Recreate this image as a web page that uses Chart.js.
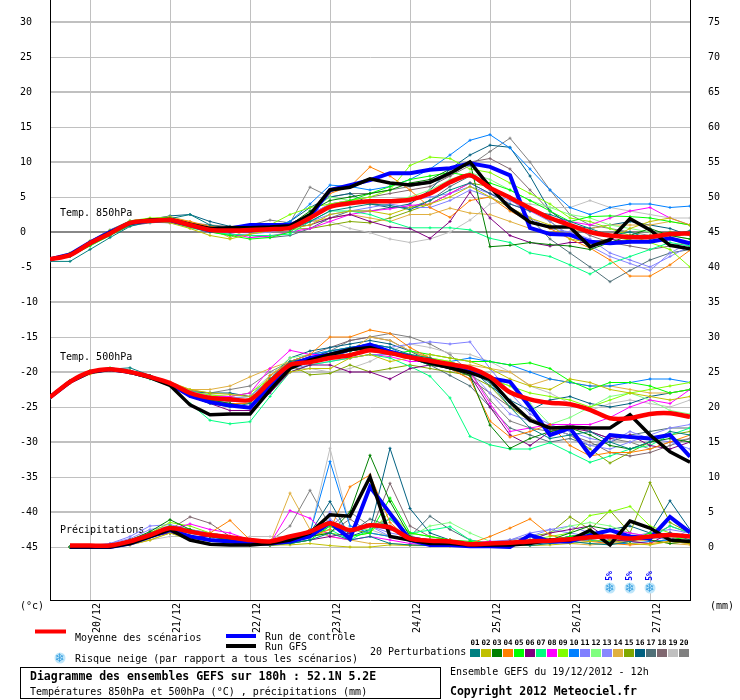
<!DOCTYPE html>
<html>
<head>
<meta charset="utf-8">
<title>Diagramme des ensembles GEFS</title>
<script src="https://cdn.jsdelivr.net/npm/chart.js@4.4.1/dist/chart.umd.min.js"></script>
<style>
  html, body { margin: 0; padding: 0; background: #fff; }
  #wrap { width: 740px; height: 700px; }
</style>
</head>
<body>
<div id="wrap"><canvas id="gefsChart" width="740" height="700"></canvas></div>
<script>
// forecast hours of the 19/12/2012 12h run
const hours = [0,6,12,18,24,30,36,42,48,54,60,66,72,78,84,90,96,102,108,114,120,126,132,138,144,150,156,162,168,174,180,186,192];
const dateHours = [12,36,60,84,108,132,156,180];
const dateLabels = ['20/12','21/12','22/12','23/12','24/12','25/12','26/12','27/12'];
const tempTicks = [-45,-40,-35,-30,-25,-20,-15,-10,-5,0,5,10,15,20,25,30];
const mmTicks = [0,5,10,15,20,25,30,35,40,45,50,55,60,65,70,75];

const memberNames = ['01','02','03','04','05','06','07','08','09','10','11','12','13','14','15','16','17','18','19','20'];
const memberColors = ['#008080','#c0c000','#008000','#ff8000','#00ff00','#800080','#00ff80','#ff00ff','#80ff00','#0080ff',
                      '#8080ff','#80ff80','#8888ff','#e0b040','#80a800','#006080','#507078','#806870','#c0c0c0','#808080'];

// snow risk
const snowHours = [168,174,180];
const snowPct = [5,5,5];

// temperature 850hPa (°C)
const t850Mean = [-3.9,-3.3,-1.6,-0.2,1.3,1.6,1.7,1.0,0.3,0.2,0.3,0.4,0.6,2.0,3.6,4.1,4.4,4.4,4.6,5.5,7.1,8.1,6.3,4.9,3.4,2.0,1.0,0,-0.5,-0.7,-0.7,-0.3,-0.2];
const t850Control = [-3.9,-3.2,-1.5,0,1.3,1.6,1.7,1.0,0.2,0.5,1.0,1.0,1.0,2.2,6.0,6.7,7.4,8.4,8.4,8.9,9.1,9.8,9.3,8.1,0.6,-0.3,-0.4,-1.4,-1.6,-1.4,-1.4,-0.9,-1.6];
const t850Gfs = [-3.9,-3.3,-1.6,-0.1,1.3,1.7,1.8,1.1,0.5,0.6,0.6,0.7,0.9,2.5,6.0,6.4,7.6,7.0,6.7,7.1,8.4,10.0,6.4,3.4,1.4,0.7,0.7,-2.1,-1.1,1.9,0.3,-1.9,-2.4];
const t850Members = [
  [-4.2,-4.2,-2.5,-0.8,0.8,1.5,1.9,2.5,1.0,0.5,0.2,0.5,0.3,1.5,3.0,3.5,4.0,3.8,3.2,4.5,6.0,7.0,5.5,4.0,3.0,2.5,1.5,0.5,-0.5,0.0,-1.0,-0.5,0.2],
  [-3.9,-3.2,-1.5,0,1.2,1.5,1.3,0.5,-0.5,-1.0,-0.3,0.2,0.5,1.0,2.5,3.0,3.0,2.5,3.5,4.0,5.0,6.5,5.0,3.5,2.0,1.0,-1.0,-1.5,-1.0,0.5,1.5,2.0,1.0],
  [-3.8,-3.1,-1.4,0.1,1.4,1.7,1.6,0.9,0.5,0.3,0.2,0.5,1.0,3.0,4.5,5.0,5.5,6.0,7.0,7.5,9.0,10.0,-2.1,-1.9,-1.5,-1.8,-2.0,-2.5,-1.5,-0.5,0.5,-0.5,-1.0],
  [-4.0,-3.3,-1.7,-0.3,1.2,1.6,2.0,1.5,0.8,0.5,0.3,0.5,0.8,2.5,5.5,6.5,9.3,8.0,6.0,3.5,2.1,4.5,5.0,3.0,1.5,0.5,-1.0,-2.3,-4.0,-6.3,-6.3,-4.7,-2.6],
  [-4.0,-3.5,-2.0,-0.5,1.0,1.8,2.1,1.2,0.0,-0.5,-1.0,-0.8,0.0,2.0,3.5,4.5,5.5,6.5,7.5,8.0,8.5,8.0,7.0,6.0,4.5,3.0,1.5,2.2,2.3,2.2,2.0,1.5,1.0],
  [-3.9,-3.4,-1.8,-0.4,1.1,1.5,1.4,0.8,0.2,0.0,0.0,0.3,0.6,1.0,2.0,2.5,1.5,0.7,0.5,-0.9,1.5,5.7,2.0,-0.5,-1.5,-2.0,-1.5,-1.5,-1.0,-1.5,-1.2,-1.0,-1.5],
  [-4.0,-3.4,-1.8,-0.4,1.0,1.4,1.4,0.6,0.0,-0.3,-0.5,-0.5,-0.3,1.5,3.0,3.0,2.5,1.5,0.6,0.6,0.6,0.3,-0.9,-1.5,-3.0,-3.5,-4.7,-6.0,-4.5,-3.5,-2.5,-1.5,-2.0],
  [-3.9,-3.3,-1.6,-0.2,1.3,1.7,1.8,1.0,0.2,-0.2,-0.8,-0.6,0.0,0.5,1.5,2.5,3.0,3.3,3.8,4.0,5.5,7.0,5.5,4.0,3.0,2.0,1.5,1.0,2.0,3.0,3.5,2.0,1.0],
  [-3.8,-3.0,-1.3,0.2,1.6,2.0,2.0,1.3,0.6,0.4,0.6,1.0,2.5,3.5,4.0,4.5,5.0,6.0,9.5,10.7,10.5,9.0,8.5,7.0,5.5,4.0,2.0,1.5,0.5,-0.5,-1.5,-2.5,-5.0],
  [-4.0,-3.4,-1.7,-0.3,1.2,1.8,2.0,1.2,0.5,0.3,0.3,0.6,1.5,4.0,6.7,6.5,6.0,6.5,7.5,9.0,11.0,13.1,13.9,12.0,9.0,6.0,3.5,2.5,3.5,4.0,4.0,3.5,3.7],
  [-3.9,-3.3,-1.7,-0.3,1.2,1.6,1.6,0.9,0.2,0.0,0.2,0.4,0.5,1.5,2.5,3.0,3.5,4.0,3.5,3.5,4.5,6.0,5.0,3.5,2.0,0.5,0.0,-1.0,-3.0,-4.0,-5.0,-3.5,-2.0],
  [-3.8,-3.2,-1.5,0.0,1.3,1.6,1.6,1.0,0.5,0.3,0.2,0.3,0.4,3.0,5.0,4.5,4.0,4.5,5.0,6.0,7.5,8.5,7.5,6.0,4.5,3.5,2.5,2.0,1.0,0.5,0.0,-0.5,-1.0],
  [-3.9,-3.4,-1.8,-0.3,1.1,1.4,1.3,0.7,0.0,-0.4,-0.3,0.0,0.5,2.5,4.0,4.5,4.0,4.5,4.5,5.0,5.5,6.5,5.5,4.5,3.0,1.5,-0.5,-2.0,-3.5,-4.5,-5.5,-3.0,-1.5],
  [-3.9,-3.3,-1.6,-0.1,1.4,1.9,2.2,1.5,0.5,-0.8,0.5,0.7,1.0,1.5,2.0,2.5,2.0,1.5,2.5,2.5,3.4,2.7,2.5,1.5,0.5,-0.5,0.0,0.5,1.0,1.0,1.0,1.5,1.0],
  [-3.8,-3.1,-1.4,0.1,1.5,1.9,1.9,1.2,0.6,0.5,0.6,0.5,0.4,0.5,1.0,1.5,1.3,2.0,3.0,4.0,5.5,7.0,6.5,5.0,3.5,1.5,-0.5,-2.0,-1.5,-1.0,-0.5,0.0,-0.5],
  [-4.0,-3.4,-1.8,-0.3,1.3,1.8,2.3,2.5,1.5,0.8,0.5,0.7,1.5,3.5,5.0,5.5,4.0,3.5,4.0,6.0,9.0,11.0,12.4,12.1,8.0,3.0,1.0,0.5,1.0,1.5,1.0,0.5,-0.5],
  [-3.9,-3.3,-1.6,-0.2,1.2,1.5,1.5,0.8,0.1,-0.5,-0.5,-0.8,-0.5,0.5,2.0,3.0,3.0,3.5,3.5,4.5,6.5,8.0,6.0,5.0,2.0,-1.0,-3.0,-5.0,-7.1,-5.5,-4.0,-3.0,-2.5],
  [-4.0,-3.5,-1.9,-0.5,0.9,1.3,1.5,1.0,0.3,0.2,0.4,0.7,0.8,2.5,4.0,4.5,5.0,5.5,6.0,6.5,8.0,10.0,10.5,9.0,6.0,3.0,1.0,-0.5,-1.5,-2.0,-2.5,-2.0,-1.5],
  [-3.9,-3.3,-1.6,-0.2,1.2,1.6,1.6,1.0,0.3,0.2,0.3,0.4,0.5,1.5,1.5,0.5,-0.1,-1.0,-1.5,-1.0,0.0,1.7,4.0,4.5,4.0,3.5,3.5,4.5,3.5,3.0,2.5,2.0,2.0],
  [-3.8,-3.1,-1.3,0.3,1.6,1.9,1.8,1.3,1.0,0.8,1.0,1.7,1.3,6.4,5.0,5.5,5.5,6.0,6.5,7.0,8.0,9.5,11.5,13.4,10.0,6.0,2.5,1.0,0.5,0.0,-0.5,-1.0,-2.0]
];

// temperature 500hPa (°C)
const t500Mean = [-23.6,-21.4,-20.0,-19.6,-20.0,-20.7,-21.6,-23.0,-23.7,-23.9,-24.0,-21.4,-19.0,-18.6,-18.0,-17.6,-16.9,-17.3,-17.9,-18.4,-18.9,-19.4,-20.7,-22.9,-23.9,-24.4,-24.6,-25.4,-26.6,-26.6,-26.0,-25.9,-26.4];
const t500Control = [-23.6,-21.4,-20.0,-19.6,-20.0,-20.7,-21.7,-23.4,-24.3,-24.8,-25.1,-22.0,-19.0,-18.0,-17.5,-16.8,-16.1,-17.1,-17.8,-18.6,-19.3,-20.0,-20.9,-21.4,-25.0,-29.0,-28.0,-31.9,-29.0,-29.3,-29.5,-29.0,-32.1];
const t500Gfs = [-23.6,-21.4,-20.0,-19.6,-20.0,-20.8,-21.9,-24.7,-26.1,-26.0,-26.0,-22.6,-19.5,-18.3,-17.5,-16.8,-16.5,-17.3,-17.9,-18.7,-19.4,-20.1,-21.1,-24.3,-26.9,-28.0,-27.9,-28.0,-28.0,-26.1,-29.0,-31.4,-32.9];
const t500Members = [
  [-23.7,-21.5,-20.1,-19.6,-19.4,-20.5,-21.8,-23.5,-24.5,-25.0,-24.5,-21.0,-18.5,-18.0,-17.0,-16.5,-16.0,-16.5,-17.5,-18.0,-19.0,-20.0,-21.5,-25.0,-28.0,-29.5,-29.0,-28.5,-30.0,-31.0,-30.0,-28.5,-29.0],
  [-23.6,-21.6,-20.3,-19.8,-20.1,-20.8,-21.5,-22.5,-23.0,-23.2,-23.5,-22.0,-20.0,-19.5,-19.5,-18.0,-17.5,-18.5,-18.0,-17.5,-18.0,-18.5,-19.5,-21.0,-22.0,-22.5,-21.0,-21.5,-22.5,-23.0,-23.5,-24.0,-23.5],
  [-23.6,-21.4,-20.0,-19.5,-19.9,-20.6,-21.7,-23.2,-24.0,-24.5,-25.0,-22.0,-19.0,-18.5,-17.5,-17.0,-16.5,-17.0,-18.0,-19.0,-19.5,-20.5,-27.6,-30.9,-29.5,-28.5,-28.0,-29.0,-30.5,-31.0,-30.0,-29.5,-30.0],
  [-23.6,-21.3,-19.9,-19.5,-20.0,-20.8,-21.8,-23.3,-24.2,-24.5,-24.5,-20.5,-18.5,-17.5,-15.0,-15.0,-14.0,-14.5,-16.5,-18.0,-19.5,-21.0,-27.0,-29.3,-28.5,-27.5,-30.5,-32.0,-31.5,-31.5,-31.0,-30.0,-29.0],
  [-23.5,-21.2,-19.8,-19.4,-19.8,-20.5,-21.5,-23.0,-23.8,-24.0,-24.3,-21.5,-18.8,-18.5,-17.5,-17.5,-17.0,-17.5,-17.0,-17.5,-18.0,-18.5,-18.5,-19.0,-18.7,-19.5,-21.3,-22.5,-21.5,-21.5,-22.0,-23.0,-22.5],
  [-23.7,-21.5,-20.1,-19.7,-20.1,-20.9,-21.9,-23.5,-24.5,-25.5,-25.5,-23.0,-20.0,-19.0,-19.0,-20.0,-20.0,-21.0,-19.5,-19.0,-19.5,-20.5,-25.0,-29.0,-30.5,-28.5,-28.0,-28.5,-29.5,-29.0,-30.5,-31.0,-30.0],
  [-23.6,-21.5,-20.1,-19.7,-20.2,-21.0,-22.0,-24.5,-26.9,-27.4,-27.1,-23.5,-20.0,-19.0,-18.5,-18.0,-17.5,-18.0,-19.2,-20.6,-23.7,-29.2,-30.4,-31.0,-31.0,-30.1,-31.5,-32.9,-32.0,-31.0,-30.5,-29.0,-28.0],
  [-23.6,-21.4,-20.0,-19.6,-20.0,-20.6,-21.5,-22.8,-23.5,-23.5,-23.0,-19.5,-16.9,-17.5,-17.5,-18.0,-17.5,-17.8,-18.5,-18.5,-19.0,-20.0,-24.5,-28.5,-28.0,-27.5,-27.5,-27.5,-26.5,-25.0,-24.0,-24.5,-22.5],
  [-23.5,-21.3,-19.9,-19.5,-19.9,-20.6,-21.6,-22.8,-23.3,-23.5,-23.0,-21.0,-18.5,-18.0,-17.5,-17.0,-16.5,-17.0,-17.5,-18.0,-18.5,-19.5,-21.0,-22.0,-23.0,-23.5,-24.0,-25.0,-24.0,-23.0,-22.5,-22.0,-21.5],
  [-23.6,-21.4,-20.0,-19.6,-20.0,-20.7,-21.6,-23.2,-24.0,-24.5,-25.0,-21.5,-18.5,-17.5,-17.0,-16.5,-16.0,-16.5,-18.0,-19.0,-18.5,-18.0,-18.5,-19.0,-20.0,-21.0,-21.5,-22.0,-22.0,-21.5,-21.0,-21.0,-21.5],
  [-23.7,-21.5,-20.1,-19.7,-20.1,-20.8,-21.7,-23.0,-23.5,-23.7,-23.5,-21.0,-18.5,-17.5,-17.0,-16.5,-16.0,-16.5,-16.0,-15.7,-16.0,-15.7,-19.5,-23.0,-26.0,-27.5,-28.5,-29.5,-30.0,-28.5,-29.5,-30.0,-31.0],
  [-23.6,-21.4,-20.0,-19.6,-20.0,-20.7,-21.6,-23.0,-23.6,-23.8,-23.5,-20.5,-18.0,-17.5,-17.0,-17.0,-16.5,-17.0,-17.5,-18.0,-18.5,-19.5,-21.0,-22.0,-24.5,-27.5,-26.5,-25.0,-23.5,-23.0,-24.0,-25.5,-26.0],
  [-23.6,-21.5,-20.1,-19.7,-20.1,-20.8,-21.7,-23.1,-23.8,-24.0,-24.0,-22.0,-19.5,-19.0,-18.5,-18.0,-17.5,-17.5,-18.0,-18.5,-19.0,-20.0,-23.0,-26.0,-27.0,-28.0,-29.0,-30.5,-31.0,-30.0,-29.0,-28.0,-27.5],
  [-23.5,-21.3,-19.9,-19.5,-19.9,-20.6,-21.4,-22.5,-22.5,-22.0,-20.7,-19.5,-18.5,-18.0,-17.5,-17.0,-15.0,-15.5,-17.0,-18.0,-19.0,-19.0,-19.5,-20.0,-21.9,-21.0,-21.5,-22.0,-22.0,-22.5,-23.0,-23.0,-22.5],
  [-23.6,-21.4,-20.0,-19.6,-20.0,-20.8,-21.7,-23.2,-24.0,-24.5,-24.5,-21.0,-19.0,-20.4,-20.2,-19.0,-20.0,-19.5,-19.0,-19.5,-20.0,-20.5,-22.0,-25.0,-27.0,-28.0,-29.0,-31.0,-33.0,-31.5,-30.0,-29.0,-28.5],
  [-23.6,-21.4,-20.0,-19.6,-20.0,-20.6,-21.5,-22.8,-23.0,-23.0,-23.5,-21.0,-18.0,-17.0,-16.5,-16.0,-15.5,-16.0,-17.0,-18.5,-19.0,-19.5,-22.0,-24.0,-25.5,-24.0,-23.5,-24.5,-25.0,-24.5,-23.5,-23.0,-22.5],
  [-23.6,-21.5,-20.1,-19.7,-20.0,-20.7,-21.7,-23.0,-23.8,-24.0,-24.0,-21.5,-19.0,-18.5,-18.0,-17.0,-16.5,-17.0,-18.0,-19.0,-20.5,-22.0,-25.0,-28.0,-29.0,-30.0,-29.5,-30.5,-30.0,-29.0,-28.5,-28.0,-28.0],
  [-23.7,-21.5,-20.1,-19.7,-20.1,-20.8,-21.8,-23.2,-24.0,-24.2,-24.0,-21.0,-18.5,-17.5,-16.5,-15.5,-15.0,-15.5,-17.0,-18.0,-19.5,-21.0,-23.0,-25.0,-26.5,-28.0,-29.0,-30.0,-31.5,-32.0,-31.5,-30.5,-29.5],
  [-23.6,-21.4,-20.0,-19.6,-20.0,-20.7,-21.6,-22.8,-23.2,-23.5,-23.0,-20.5,-19.5,-19.5,-20.0,-19.5,-18.5,-17.0,-16.0,-16.5,-17.3,-17.5,-18.5,-20.0,-22.0,-23.0,-24.5,-25.5,-24.5,-24.0,-24.5,-25.0,-24.0],
  [-23.6,-21.4,-20.0,-19.6,-20.0,-20.7,-21.5,-22.6,-23.0,-22.5,-22.0,-20.0,-18.5,-18.0,-17.0,-15.5,-15.0,-14.5,-15.0,-16.0,-17.5,-20.0,-24.0,-27.0,-28.0,-28.5,-27.5,-28.5,-29.5,-30.0,-31.0,-30.0,-29.5]
];

// precipitation (mm), first value of the run is not given
const precipMean = [null,0.2,0.2,0.2,0.8,1.7,2.7,2.2,1.7,1.4,1.0,0.8,1.5,2.2,3.4,2.4,3.1,2.8,1.2,0.9,0.8,0.4,0.5,0.6,0.8,0.9,1.1,1.4,1.5,1.2,1.5,1.7,1.5];
const precipControl = [null,0,0,0,0.5,1.5,2.4,1.5,1.0,0.8,0.5,0.5,0.8,1.5,3.5,1.2,8.6,4.8,1.0,0.3,0.3,0.1,0.1,0,1.7,0.8,0.8,1.7,2.4,1.5,1.2,4.3,2.1];
const precipGfs = [null,0,0,0,0.5,1.5,2.5,1.0,0.4,0.3,0.3,0.5,1.0,2.0,4.6,4.4,10.0,1.5,1.0,0.5,0.5,0.3,0.3,0.3,0.5,1.0,1.0,2.4,0.3,3.7,2.7,1.0,0.8];
const precipMembers = [
  [null,0,0.1,0.3,1.0,2.0,2.5,1.5,1.0,0.8,0.3,0.5,0.5,1.0,2.0,1.0,1.5,0.5,0.3,0.2,0.3,0.2,0.3,0.5,0.2,0.5,0.8,0.5,0.3,0.8,1.5,2.0,1.0],
  [null,0,0,0,0.3,1.0,2.0,1.0,0.5,0.5,0.2,0.3,0.3,0.5,0.2,0.0,0.0,0.3,0.2,0.2,0.1,0.1,0.2,0.3,0.2,0.3,0.5,0.8,1.0,0.5,0.3,0.8,0.5],
  [null,0,0,0.2,1.0,2.2,3.9,2.5,1.5,1.0,0.5,0.2,0.5,1.5,2.0,5.0,13.1,6.5,1.5,0.5,0.3,0.2,0.2,0.3,0.5,1.0,2.0,3.0,2.5,1.5,1.0,0.5,0.8],
  [null,0,0.1,0.1,0.5,1.5,2.5,2.0,2.0,3.8,1.0,0.8,1.0,1.5,2.5,8.6,10.3,3.5,1.0,0.5,1.0,0.5,1.5,2.7,4.0,1.7,1.0,0.8,0.5,0.3,0.5,0.8,0.5],
  [null,0,0,0.2,0.8,2.0,3.0,2.5,1.5,1.0,0.8,0.5,0.5,1.0,3.0,1.5,2.0,7.0,2.0,1.5,1.0,0.8,0.5,0.3,0.5,0.8,1.5,2.0,1.5,1.0,2.0,1.0,1.5],
  [null,0,0,0,0.5,1.5,2.0,1.5,1.5,1.0,0.8,0.5,0.5,1.0,1.5,2.0,3.0,2.5,1.5,1.0,0.5,0.3,0.5,0.8,1.0,2.0,2.5,3.0,1.0,0.8,0.5,2.0,1.5],
  [null,0,0,0,0.5,1.5,2.5,2.0,1.5,1.2,0.8,0.5,1.0,2.0,2.5,1.0,2.5,4.0,2.0,2.4,2.9,1.0,0.5,0.3,0.5,0.8,1.5,1.0,0.8,1.5,1.2,3.0,2.0],
  [null,0,0,0.3,1.0,2.0,2.5,3.3,2.5,2.0,1.0,0.5,5.2,4.1,1.5,1.0,1.5,1.0,0.5,0.3,0.2,0.5,0.8,0.5,0.5,0.8,1.0,1.5,2.5,2.0,1.5,2.0,1.5],
  [null,0,0,0.2,1.0,2.0,3.5,3.0,2.0,1.5,1.0,0.5,1.0,1.5,2.0,1.5,2.0,5.0,2.0,1.5,1.0,0.5,0.5,0.8,1.0,1.5,2.0,4.5,5.0,5.8,3.0,2.0,1.5],
  [null,0,0,0,0.5,1.5,2.0,1.5,1.0,0.8,0.5,0.5,1.0,2.0,12.2,3.0,2.0,1.5,1.0,0.5,0.5,0.3,0.2,0.3,0.5,0.5,0.8,1.0,0.5,0.5,0.8,1.0,0.8],
  [null,0,0,0.5,1.5,3.0,3.2,2.5,2.0,1.5,1.0,0.8,1.0,1.5,5.0,2.0,3.0,2.0,1.5,1.0,0.8,0.5,0.8,1.0,2.0,2.5,2.0,1.5,1.0,1.5,2.0,2.5,2.0],
  [null,0,0,0.2,0.8,1.8,2.8,2.2,1.8,1.5,1.0,0.8,1.5,2.0,3.0,2.5,2.5,3.0,1.5,3.0,3.5,2.0,0.8,0.5,1.0,2.0,3.0,3.5,3.0,2.0,1.5,1.5,1.0],
  [null,0,0.2,0.5,1.2,2.5,3.0,2.0,1.5,1.2,0.8,0.8,1.0,1.5,4.0,2.0,3.0,1.5,0.8,0.5,0.5,0.3,0.5,1.0,1.5,2.5,3.0,2.0,1.5,1.0,1.5,1.0,2.5],
  [null,0,0,0,0.3,1.0,2.0,1.5,1.0,1.0,0.8,0.5,7.7,2.5,1.5,1.0,0.5,0.5,0.3,0.2,0.3,0.2,0.3,0.5,0.5,0.8,0.5,0.3,0.5,0.8,1.0,0.5,0.3],
  [null,0,0,0.2,0.8,1.8,3.0,2.5,2.0,1.5,1.0,0.5,1.0,2.5,3.0,2.5,2.0,1.5,1.0,0.5,0.3,0.3,0.5,1.0,1.5,2.0,4.3,2.5,5.2,2.0,9.2,3.5,2.0],
  [null,0,0,0.1,0.8,1.5,2.5,2.0,1.5,1.2,0.8,0.5,1.0,2.0,6.5,1.5,2.5,14.1,5.5,2.0,1.0,0.5,0.3,0.5,0.8,1.0,1.5,2.0,2.5,3.0,2.0,6.6,2.5],
  [null,0,0,0,0.5,1.5,2.0,1.5,1.0,0.8,0.5,0.3,0.8,1.5,3.0,2.0,4.0,3.0,1.5,4.4,2.5,1.0,0.5,0.3,0.5,1.0,1.5,1.0,0.8,1.0,1.5,1.0,0.8],
  [null,0,0.1,0.2,0.8,1.5,2.5,4.3,3.4,1.5,0.8,0.5,1.0,2.5,2.0,4.0,2.0,9.1,3.0,1.5,1.0,0.5,0.3,0.5,0.8,1.0,1.5,2.0,1.5,1.0,1.5,3.0,2.0],
  [null,0,0,0,0.3,1.0,1.5,1.5,1.0,0.8,1.5,1.5,1.5,2.0,14.1,3.0,2.5,1.5,0.8,0.5,0.3,0.2,0.3,0.5,0.8,1.0,0.8,0.5,0.5,0.8,1.0,0.8,0.5],
  [null,0,0,0,0.5,1.5,2.0,1.5,1.0,1.0,0.8,0.8,3.0,8.1,3.0,5.0,3.0,4.0,1.5,1.0,0.5,0.3,0.3,0.5,0.8,1.0,1.5,1.0,0.8,1.0,1.2,1.5,1.0]
];

const mono = 'DejaVu Sans Mono';

function toPoints(vals) {
  return hours.map((h, i) => ({ x: h, y: vals[i] }));
}

function memberLine(vals, color, axis) {
  return {
    data: toPoints(vals),
    borderColor: color,
    backgroundColor: color,
    borderWidth: 1,
    pointRadius: 1.5,
    pointStyle: 'cross',
    pointBorderWidth: 1,
    tension: 0,
    yAxisID: axis,
    order: 3
  };
}

function mainLine(vals, color, width, axis, order, tension) {
  return {
    data: toPoints(vals),
    borderColor: color,
    backgroundColor: color,
    borderWidth: width,
    pointRadius: 0,
    tension: tension,
    yAxisID: axis,
    order: order
  };
}

let datasets = [];
memberColors.forEach((c, m) => {
  datasets.push(memberLine(t850Members[m], c, 'y'));
  datasets.push(memberLine(t500Members[m], c, 'y'));
  datasets.push(memberLine(precipMembers[m], c, 'mm'));
});
datasets.push(mainLine(t850Control, '#0000ff', 4, 'y', 2, 0));
datasets.push(mainLine(t500Control, '#0000ff', 4, 'y', 2, 0));
datasets.push(mainLine(precipControl, '#0000ff', 4, 'mm', 2, 0));
datasets.push(mainLine(t850Gfs, '#000000', 3.5, 'y', 1, 0));
datasets.push(mainLine(t500Gfs, '#000000', 3.5, 'y', 1, 0));
datasets.push(mainLine(precipGfs, '#000000', 3.5, 'mm', 1, 0));
datasets.push(mainLine(t850Mean, '#ff0000', 4.5, 'y', 0, 0.25));
datasets.push(mainLine(t500Mean, '#ff0000', 4.5, 'y', 0, 0.25));
datasets.push(mainLine(precipMean, '#ff0000', 4.5, 'mm', 0, 0.25));

function drawSnowflake(ctx, x, y, size) {
  ctx.save();
  ctx.fillStyle = '#bfe6fa';
  ctx.beginPath();
  ctx.arc(x, y, size / 2, 0, Math.PI * 2);
  ctx.fill();
  ctx.font = 'bold ' + (size + 1) + 'px "DejaVu Sans"';
  ctx.fillStyle = '#3aa0e0';
  ctx.textAlign = 'center';
  ctx.textBaseline = 'middle';
  ctx.fillText('\u2744', x, y + 0.5);
  ctx.restore();
}

const sectionLabels = {
  id: 'sectionLabels',
  beforeDatasetsDraw(chart) {
    const { ctx, chartArea, scales } = chart;
    ctx.save();
    ctx.font = '10px "' + mono + '"';
    ctx.fillStyle = '#000';
    ctx.textBaseline = 'middle';
    ctx.fillText('Temp. 850hPa', chartArea.left + 10, scales.y.getPixelForValue(2.7));
    ctx.fillText('Temp. 500hPa', chartArea.left + 10, scales.y.getPixelForValue(-17.9));
    ctx.fillText('Précipitations', chartArea.left + 10, scales.y.getPixelForValue(-42.6));
    ctx.restore();
  }
};

const decorations = {
  id: 'decorations',
  afterDraw(chart) {
    const { ctx, chartArea, scales } = chart;
    ctx.save();
    ctx.fillStyle = '#000';
    ctx.textBaseline = 'middle';
    ctx.font = '10px "' + mono + '"';
    ctx.fillText('(°c)', 20, chartArea.bottom + 6);
    ctx.fillText('(mm)', 710, chartArea.bottom + 6);

    // snow risk markers
    snowHours.forEach((h, i) => {
      const x = scales.x.getPixelForValue(h);
      drawSnowflake(ctx, x, chartArea.bottom - 12, 11);
      ctx.save();
      ctx.translate(x, chartArea.bottom - 24);
      ctx.rotate(-Math.PI / 2);
      ctx.font = 'bold 8px "' + mono + '"';
      ctx.fillStyle = '#0000ff';
      ctx.textAlign = 'center';
      ctx.fillText(snowPct[i] + '%', 0, 0);
      ctx.restore();
    });

    // legend
    ctx.lineCap = 'butt';
    ctx.strokeStyle = '#ff0000';
    ctx.lineWidth = 4;
    ctx.beginPath(); ctx.moveTo(35, 631.5); ctx.lineTo(66, 631.5); ctx.stroke();
    ctx.strokeStyle = '#0000ff';
    ctx.beginPath(); ctx.moveTo(226, 636); ctx.lineTo(256, 636); ctx.stroke();
    ctx.strokeStyle = '#000000';
    ctx.beginPath(); ctx.moveTo(226, 646); ctx.lineTo(256, 646); ctx.stroke();
    ctx.fillText('Moyenne des scénarios', 75, 638);
    ctx.fillText('Run de contrôle', 265, 637);
    ctx.fillText('Run GFS', 265, 647);
    drawSnowflake(ctx, 60, 658, 11);
    ctx.fillText('Risque neige (par rapport a tous les scénarios)', 75, 659);
    ctx.fillText('20 Perturbations', 370, 652);

    memberNames.forEach((n, i) => {
      const x = 470 + i * 11;
      ctx.fillStyle = memberColors[i];
      ctx.fillRect(x, 649, 10, 8);
      ctx.fillStyle = '#000';
      ctx.font = 'bold 7.5px "' + mono + '"';
      ctx.textAlign = 'center';
      ctx.fillText(n, x + 5, 643);
    });
    ctx.textAlign = 'left';

    // footer
    ctx.strokeStyle = '#000';
    ctx.lineWidth = 1;
    ctx.strokeRect(20.5, 667.5, 420, 31);
    ctx.font = 'bold 11.5px "' + mono + '"';
    ctx.fillText('Diagramme des ensembles GEFS sur 180h : 52.1N 5.2E', 30, 677);
    ctx.fillText('Copyright 2012 Meteociel.fr', 450, 692);
    ctx.font = '10px "' + mono + '"';
    ctx.fillText('Températures 850hPa et 500hPa (°C) , précipitations (mm)', 30, 692);
    ctx.fillText('Ensemble GEFS du 19/12/2012 - 12h', 450, 672);
    ctx.restore();
  }
};

Chart.defaults.font.family = mono;
Chart.defaults.font.size = 10;
Chart.defaults.color = '#000';

new Chart(document.getElementById('gefsChart'), {
  type: 'line',
  data: { datasets: datasets },
  options: {
    responsive: false,
    animation: false,
    events: [],
    layout: { autoPadding: false, padding: { left: 20, right: 0, top: 0, bottom: 0 } },
    plugins: { legend: { display: false }, tooltip: { enabled: false } },
    scales: {
      x: {
        type: 'linear',
        min: 0,
        max: 192,
        afterBuildTicks: s => { s.ticks = dateHours.map(v => ({ value: v })); },
        afterFit: s => { s.height = 100; s.paddingLeft = 0; s.paddingRight = 0; },
        grid: { color: '#c0c0c0', lineWidth: 1, drawTicks: false },
        border: { color: '#000', width: 1 },
        ticks: {
          autoSkip: false,
          minRotation: 90,
          maxRotation: 90,
          labelOffset: 7,
          padding: 3,
          callback: (v, i) => dateLabels[i]
        }
      },
      y: {
        position: 'left',
        min: -52.571,
        max: 33.143,
        afterBuildTicks: s => { s.ticks = tempTicks.map(v => ({ value: v })); },
        afterFit: s => { s.width = 30; s.paddingTop = 0; s.paddingBottom = 0; },
        grid: {
          drawTicks: false,
          color: c => c.tick.value === 0 ? '#888888' : '#c0c0c0',
          lineWidth: c => c.tick.value % 10 === 0 ? 2 : 1
        },
        border: { color: '#000', width: 1 },
        ticks: { crossAlign: 'far', padding: 0 }
      },
      mm: {
        position: 'right',
        min: -7.571,
        max: 78.143,
        afterBuildTicks: s => { s.ticks = mmTicks.map(v => ({ value: v })); },
        afterFit: s => { s.width = 50; s.paddingTop = 0; s.paddingBottom = 0; },
        grid: { drawOnChartArea: false, drawTicks: false },
        border: { color: '#000', width: 1 },
        ticks: { padding: 18 }
      }
    }
  },
  plugins: [sectionLabels, decorations]
});
</script>
</body>
</html>
